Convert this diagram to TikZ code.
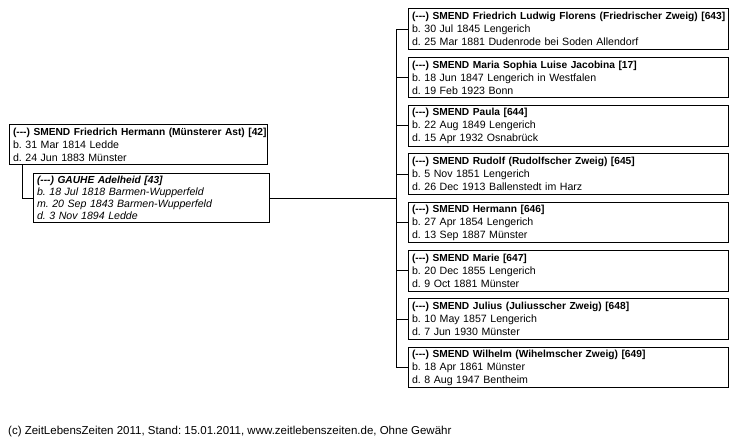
\documentclass[tikz,border=0pt]{standalone}
\usepackage{fontspec}
\setmainfont{Liberation Sans}
\frenchspacing
\newcommand{\famtext}{\fontsize{10.6}{13}\selectfont}
\newcommand{\famname}[1]{\mbox{\fontsize{10.2}{13}\selectfont\bfseries #1}}
\tikzset{
  person/.style={draw, line width=1pt, anchor=north west, align=left,
    inner xsep=3.5pt, inner ysep=1pt, font=\famtext},
  link/.style={line width=0.8pt}
}
\begin{document}
\begin{tikzpicture}[x=1pt, y=-1pt]
        \useasboundingbox (0,0) rectangle (737,441);

        % Parents
        \node[person, text width=251pt, minimum height=39.5pt] (father) at (9,124.5)
          {\famname{(-{}-{}-) SMEND Friedrich Hermann (Münsterer Ast) [42]}\\
           b. 31 Mar 1814 Ledde\\
           d. 24 Jun 1883 Münster};
        \node[person, text width=229pt, minimum height=49.5pt, font=\famtext\itshape,
          execute at begin node={\baselineskip=12pt}] (mother) at (33,173)
          {\famname{(-{}-{}-) GAUHE Adelheid [43]}\\
           b. 18 Jul 1818 Barmen-Wupperfeld\\
           m. 20 Sep 1843 Barmen-Wupperfeld\\
           d. 3 Nov 1894 Ledde};

        % Children
        \node[person, text width=313pt, minimum height=40.7pt] (c1) at (408,8.3)
          {\famname{(-{}-{}-) SMEND Friedrich Ludwig Florens (Friedrischer Zweig) [643]}\\
           b. 30 Jul 1845 Lengerich\\
           d. 25 Mar 1881 Dudenrode bei Soden Allendorf};
        \node[person, text width=313pt, minimum height=40.7pt] (c2) at (408,56.6)
          {\famname{(-{}-{}-) SMEND Maria Sophia Luise Jacobina [17]}\\
           b. 18 Jun 1847 Lengerich in Westfalen\\
           d. 19 Feb 1923 Bonn};
        \node[person, text width=313pt, minimum height=40.7pt] (c3) at (408,105)
          {\famname{(-{}-{}-) SMEND Paula [644]}\\
           b. 22 Aug 1849 Lengerich\\
           d. 15 Apr 1932 Osnabrück};
        \node[person, text width=313pt, minimum height=40.7pt] (c4) at (408,153.3)
          {\famname{(-{}-{}-) SMEND Rudolf (Rudolfscher Zweig) [645]}\\
           b. 5 Nov 1851 Lengerich\\
           d. 26 Dec 1913 Ballenstedt im Harz};
        \node[person, text width=313pt, minimum height=40.7pt] (c5) at (408,201.7)
          {\famname{(-{}-{}-) SMEND Hermann [646]}\\
           b. 27 Apr 1854 Lengerich\\
           d. 13 Sep 1887 Münster};
        \node[person, text width=313pt, minimum height=40.7pt] (c6) at (408,250)
          {\famname{(-{}-{}-) SMEND Marie [647]}\\
           b. 20 Dec 1855 Lengerich\\
           d. 9 Oct 1881 Münster};
        \node[person, text width=313pt, minimum height=40.7pt] (c7) at (408,298.4)
          {\famname{(-{}-{}-) SMEND Julius (Juliusscher Zweig) [648]}\\
           b. 10 May 1857 Lengerich\\
           d. 7 Jun 1930 Münster};
        \node[person, text width=313pt, minimum height=40.7pt] (c8) at (408,346.7)
          {\famname{(-{}-{}-) SMEND Wilhelm (Wihelmscher Zweig) [649]}\\
           b. 18 Apr 1861 Münster\\
           d. 8 Aug 1947 Bentheim};

        % Connectors
        \draw[link] ([xshift=13pt]father.south west) |- (mother.west);
        \coordinate (bus) at ([xshift=-12pt]c1.west |- mother.east);
        \draw[link] (mother.east) -- (bus);
        \draw[link] ([xshift=-12pt]c1.west) -- ([xshift=-12pt]c8.west);
        \foreach \c in {c1,c2,c3,c4,c5,c6,c7,c8}
          \draw[link] (\c.west) -- ++(-12,0);

        % Footer
        \node[anchor=west, font=\fontsize{11.5}{13}\selectfont, inner sep=0pt] (footer) at (8,432)
          {(c) ZeitLebensZeiten 2011, Stand: 15.01.2011, www.zeitlebenszeiten.de, Ohne Gewähr};
\end{tikzpicture}
\end{document}
